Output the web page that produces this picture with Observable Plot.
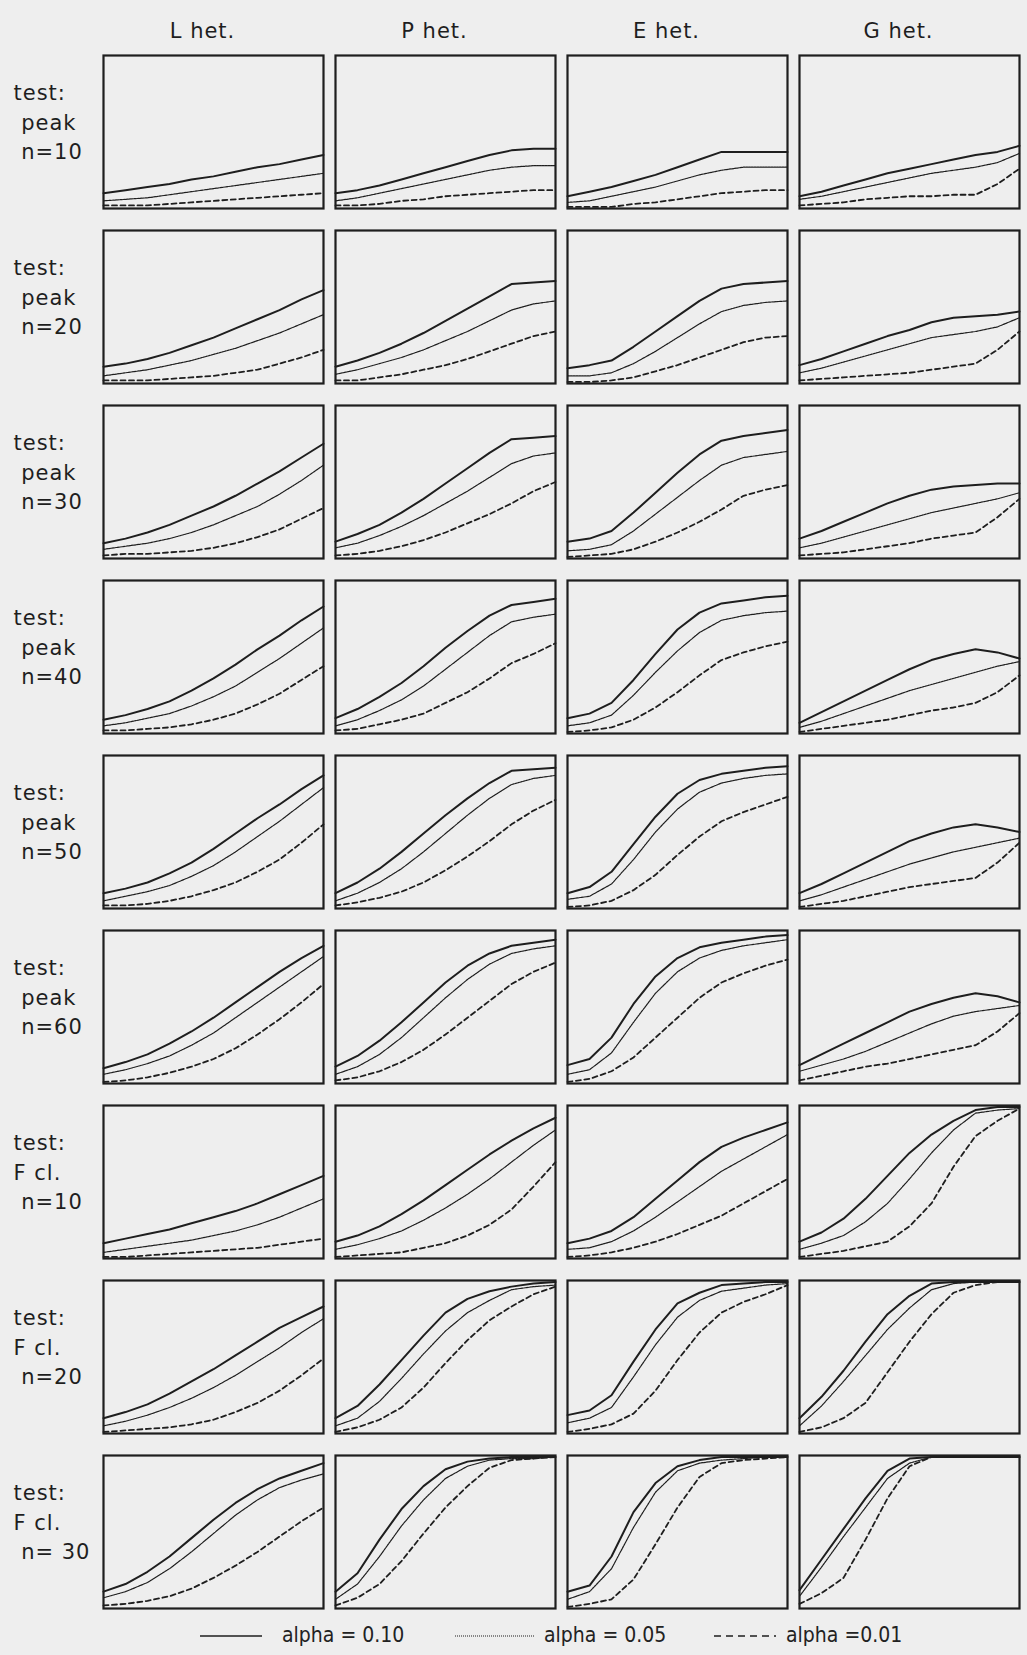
<!DOCTYPE html>
<html><head><meta charset="utf-8">
<script src="https://cdn.jsdelivr.net/npm/d3@7"></script>
<script src="https://cdn.jsdelivr.net/npm/@observablehq/plot@0.6"></script>
<style>
body{margin:0;background:#eeeeee;}
#chart svg{display:block;}
#chart text{letter-spacing:1px;}
#legend{position:relative;height:40px;width:1027px;font-family:"DejaVu Sans Condensed","DejaVu Sans",sans-serif;font-size:21px;color:#222;}
#legend .it{position:absolute;top:0;line-height:40px;white-space:pre;}
#legend svg{position:absolute;top:19px;}
</style></head><body><div id="chart"></div><div id="legend"></div>
<script>
const columns = ["L het.", "P het.", "E het.", "G het."];
const rowKeys = ["peak n=10","peak n=20","peak n=30","peak n=40","peak n=50","peak n=60","F cl. n=10","F cl. n=20","F cl. n=30"];
const rowLabels = [
  "test:\n\u00a0peak\n\u00a0n=10","test:\n\u00a0peak\n\u00a0n=20","test:\n\u00a0peak\n\u00a0n=30",
  "test:\n\u00a0peak\n\u00a0n=40","test:\n\u00a0peak\n\u00a0n=50","test:\n\u00a0peak\n\u00a0n=60",
  "test:\nF cl.\n\u00a0n=10","test:\nF cl.\n\u00a0n=20","test:\nF cl.\n\u00a0n= 30"];
const alphas = ["alpha = 0.10", "alpha = 0.05", "alpha =0.01"];
const xGrid = [0,1,2,3,4,5,6,7,8,9,10];

// each row: [L a10, L a05, L a01, P a10, P a05, P a01, E a10, E a05, E a01, G a10, G a05, G a01]
const peak_n10 = [
 [.10,.12,.14,.16,.19,.21,.24,.27,.29,.32,.35],[.05,.06,.07,.09,.11,.13,.15,.17,.19,.21,.23],[.02,.02,.02,.03,.04,.05,.06,.07,.08,.09,.10],
 [.10,.12,.15,.19,.23,.27,.31,.35,.38,.39,.39],[.05,.07,.10,.13,.16,.19,.22,.25,.27,.28,.28],[.02,.02,.03,.05,.06,.08,.09,.10,.11,.12,.12],
 [.08,.11,.14,.18,.22,.27,.32,.37,.37,.37,.37],[.04,.05,.08,.11,.14,.18,.22,.25,.27,.27,.27],[.01,.01,.01,.03,.04,.06,.08,.10,.11,.12,.12],
 [.08,.11,.15,.19,.23,.26,.29,.32,.35,.37,.41],[.06,.08,.11,.14,.17,.20,.23,.25,.27,.30,.36],[.02,.03,.04,.06,.07,.08,.08,.09,.09,.16,.26]];
const peak_n20 = [
 [.11,.13,.16,.20,.25,.30,.36,.42,.48,.55,.61],[.05,.07,.09,.12,.15,.19,.23,.28,.33,.39,.45],[.02,.02,.02,.03,.04,.05,.07,.09,.13,.17,.22],
 [.11,.15,.20,.26,.33,.41,.49,.57,.65,.66,.67],[.06,.09,.13,.17,.22,.28,.34,.41,.48,.52,.54],[.02,.02,.04,.06,.09,.12,.16,.21,.26,.31,.34],
 [.10,.12,.15,.24,.34,.44,.54,.62,.65,.66,.67],[.05,.05,.07,.13,.21,.30,.39,.47,.51,.53,.54],[.01,.01,.02,.04,.08,.12,.17,.22,.27,.30,.31],
 [.12,.16,.21,.26,.31,.35,.40,.43,.44,.45,.47],[.07,.10,.14,.18,.22,.26,.30,.32,.34,.37,.43],[.02,.03,.04,.05,.06,.07,.09,.11,.13,.22,.34]];
const peak_n30 = [
 [.10,.13,.17,.22,.28,.34,.41,.49,.57,.66,.75],[.06,.08,.10,.13,.17,.22,.28,.34,.42,.51,.61],[.02,.03,.03,.04,.05,.07,.10,.14,.19,.26,.33],
 [.11,.16,.22,.30,.39,.49,.59,.69,.78,.79,.80],[.07,.10,.15,.21,.28,.36,.44,.53,.62,.67,.69],[.02,.03,.05,.08,.12,.17,.23,.29,.36,.44,.50],
 [.11,.13,.18,.30,.43,.56,.68,.77,.80,.82,.84],[.05,.06,.09,.18,.29,.40,.51,.61,.66,.68,.70],[.01,.02,.03,.06,.11,.17,.24,.32,.41,.45,.48],
 [.13,.18,.24,.30,.36,.41,.45,.47,.48,.49,.49],[.07,.10,.14,.18,.22,.26,.30,.33,.36,.39,.43],[.02,.03,.04,.06,.08,.10,.13,.15,.17,.27,.39]];
const peak_n40 = [
 [.09,.12,.16,.21,.28,.36,.45,.55,.64,.74,.83],[.05,.07,.10,.13,.18,.24,.31,.40,.49,.59,.69],[.02,.02,.03,.04,.06,.09,.13,.19,.26,.35,.44],
 [.10,.16,.24,.33,.44,.56,.67,.77,.84,.86,.88],[.05,.09,.15,.22,.31,.42,.53,.64,.73,.76,.78],[.02,.03,.06,.09,.13,.20,.27,.36,.46,.52,.59],
 [.10,.13,.20,.35,.52,.68,.79,.85,.87,.89,.90],[.05,.07,.12,.25,.40,.54,.66,.74,.77,.79,.80],[.01,.02,.04,.09,.17,.27,.38,.48,.53,.57,.60],
 [.07,.14,.21,.28,.35,.42,.48,.52,.55,.53,.49],[.04,.08,.13,.18,.23,.28,.32,.36,.40,.44,.47],[.01,.03,.05,.07,.09,.12,.15,.17,.20,.27,.38]];
const peak_n50 = [
 [.10,.13,.17,.23,.30,.39,.49,.59,.68,.78,.87],[.05,.08,.11,.15,.21,.28,.37,.47,.57,.68,.79],[.02,.02,.03,.05,.08,.12,.17,.24,.32,.43,.55],
 [.10,.17,.26,.37,.49,.61,.72,.82,.90,.91,.92],[.05,.10,.17,.26,.37,.49,.61,.72,.81,.85,.87],[.02,.04,.07,.11,.17,.25,.34,.44,.55,.64,.71],
 [.10,.14,.24,.42,.60,.75,.84,.88,.90,.92,.93],[.06,.08,.16,.32,.50,.65,.76,.82,.85,.87,.88],[.01,.02,.05,.12,.22,.35,.47,.57,.63,.68,.73],
 [.10,.16,.23,.30,.37,.44,.49,.53,.55,.53,.50],[.05,.09,.14,.19,.24,.29,.33,.37,.40,.43,.46],[.01,.03,.05,.08,.11,.14,.16,.18,.20,.30,.43]];
const peak_n60 = [
 [.10,.14,.19,.26,.34,.43,.53,.63,.73,.82,.90],[.06,.09,.13,.18,.25,.33,.43,.53,.63,.73,.83],[.01,.02,.04,.07,.11,.16,.23,.32,.42,.53,.65],
 [.11,.18,.28,.40,.53,.66,.77,.85,.90,.92,.94],[.06,.11,.19,.30,.43,.56,.68,.78,.85,.88,.90],[.02,.04,.08,.14,.22,.32,.43,.54,.65,.73,.79],
 [.12,.16,.30,.52,.70,.82,.89,.92,.94,.96,.97],[.06,.09,.20,.40,.59,.73,.82,.87,.90,.92,.94],[.01,.03,.08,.17,.30,.43,.56,.66,.72,.77,.81],
 [.12,.19,.26,.33,.40,.47,.52,.56,.59,.57,.53],[.08,.12,.16,.21,.27,.33,.39,.44,.47,.49,.51],[.02,.05,.08,.11,.13,.16,.19,.22,.25,.34,.46]];
const fcl_n10 = [
 [.10,.13,.16,.19,.23,.27,.31,.36,.42,.48,.54],[.04,.06,.08,.10,.12,.15,.18,.22,.27,.33,.39],[.01,.01,.02,.03,.04,.05,.06,.07,.09,.11,.13],
 [.11,.15,.21,.29,.38,.48,.58,.68,.77,.85,.92],[.06,.09,.13,.18,.25,.33,.42,.52,.63,.74,.84],[.01,.02,.03,.04,.07,.10,.15,.22,.32,.47,.63],
 [.10,.13,.18,.27,.39,.51,.63,.73,.79,.84,.89],[.06,.07,.11,.18,.27,.37,.47,.57,.65,.73,.81],[.01,.02,.04,.07,.11,.16,.22,.28,.36,.44,.52],
 [.11,.17,.26,.39,.54,.69,.81,.90,.97,.99,.99],[.06,.10,.15,.24,.36,.52,.69,.84,.95,.97,.98],[.01,.03,.05,.08,.11,.21,.36,.60,.80,.90,.98]];
const fcl_n20 = [
 [.10,.14,.19,.26,.34,.42,.51,.60,.69,.76,.83],[.05,.08,.12,.17,.23,.30,.38,.47,.56,.66,.75],[.01,.02,.03,.04,.06,.09,.14,.20,.28,.38,.49],
 [.10,.18,.32,.48,.64,.79,.88,.93,.96,.98,.99],[.05,.10,.21,.36,.52,.67,.79,.87,.94,.96,.97],[.01,.04,.09,.17,.30,.46,.61,.74,.83,.91,.96],
 [.12,.15,.25,.47,.68,.85,.92,.97,.98,.99,.99],[.07,.10,.17,.37,.58,.76,.87,.93,.95,.97,.98],[.01,.03,.06,.13,.28,.48,.66,.79,.86,.91,.97],
 [.10,.24,.41,.60,.78,.90,.98,.99,.99,.99,.99],[.05,.18,.34,.51,.68,.82,.94,.98,.99,.99,.99],[.01,.04,.10,.20,.40,.60,.78,.92,.97,.99,.99]];
const fcl_n30 = [
 [.11,.16,.24,.34,.46,.58,.69,.78,.85,.90,.95],[.07,.11,.17,.26,.37,.49,.61,.71,.79,.84,.88],[.02,.03,.05,.08,.13,.20,.28,.37,.47,.57,.66],
 [.11,.23,.45,.65,.80,.91,.96,.98,.99,.99,.99],[.06,.16,.34,.54,.71,.85,.93,.97,.98,.98,.99],[.02,.07,.16,.31,.49,.66,.80,.92,.97,.98,.99],
 [.11,.15,.34,.63,.82,.93,.97,.99,.99,.99,.99],[.06,.11,.26,.53,.76,.90,.95,.97,.98,.99,.99],[.01,.03,.06,.19,.42,.66,.86,.95,.97,.98,.99],
 [.12,.32,.52,.72,.90,.98,.99,.99,.99,.99,.99],[.08,.27,.47,.66,.85,.95,.99,.99,.99,.99,.99],[.03,.10,.20,.45,.72,.93,.99,.99,.99,.99,.99]];

const rowsData = [peak_n10, peak_n20, peak_n30, peak_n40, peak_n50, peak_n60, fcl_n10, fcl_n20, fcl_n30];

const data = [];
rowsData.forEach((rd, r) => {
  rd.forEach((series, k) => {
    const col = columns[Math.floor(k / 3)];
    const alpha = alphas[k % 3];
    series.forEach((v, i) => data.push({row: rowKeys[r], col, alpha, x: xGrid[i], y: v}));
  });
});

const styles = [
  {strokeWidth: 2, strokeDasharray: null},
  {strokeWidth: 1.2, strokeDasharray: "2,0.8"},
  {strokeWidth: 1.8, strokeDasharray: "5,3.5"}
];
const ink = "#1e1e1e";

const lineMarks = alphas.map((a, j) => Plot.line(data.filter(d => d.alpha === a), {
  x: "x", y: "y", fx: "col", fy: "row",
  stroke: ink, strokeWidth: styles[j].strokeWidth,
  strokeDasharray: styles[j].strokeDasharray, strokeLinejoin: "round"
}));

const chart = Plot.plot({
  width: 1027, height: 1615,
  marginLeft: 102, marginRight: 7, marginTop: 55, marginBottom: 7,
  style: {background: "#eeeeee", color: ink, fontFamily: "DejaVu Sans"},
  x: {axis: null, domain: [0, 10]},
  y: {axis: null, domain: [0, 1]},
  fx: {domain: columns, paddingInner: 0.05, paddingOuter: 0},
  fy: {domain: rowKeys, paddingInner: 0.126, paddingOuter: 0, axis: null},
  marks: [
    ...lineMarks,
    Plot.frame({stroke: ink, strokeWidth: 2.2}),
    Plot.axisFx({anchor: "top", label: null, tickSize: 0, tickPadding: 18, fontSize: 21, dx: -11}),
    Plot.text(rowKeys, {
      fx: () => columns[0], fy: d => d, text: (d, i) => rowLabels[i],
      frameAnchor: "left", textAnchor: "start", dx: -90, dy: -12,
      lineHeight: 1.42, fontSize: 21, fill: ink
    })
  ]
});
document.getElementById("chart").appendChild(chart);

// legend
const legend = document.getElementById("legend");
const legendPos = [[200, 62, 282], [455, 79, 544], [714, 62, 786]];
alphas.forEach((a, j) => {
  const [lx, lw, tx] = legendPos[j];
  const s = styles[j];
  const svg = `<svg width="${lw}" height="4" style="left:${lx}px"><line x1="0" x2="${lw}" y1="2" y2="2" stroke="${ink}" stroke-width="${j === 1 ? 1 : 1.6}" ${j === 1 ? 'stroke-dasharray="1,1"' : s.strokeDasharray ? 'stroke-dasharray="7,5"' : ''}/></svg>`;
  legend.insertAdjacentHTML("beforeend", svg + `<span class="it" style="left:${tx}px">${a}</span>`);
});
</script></body></html>
